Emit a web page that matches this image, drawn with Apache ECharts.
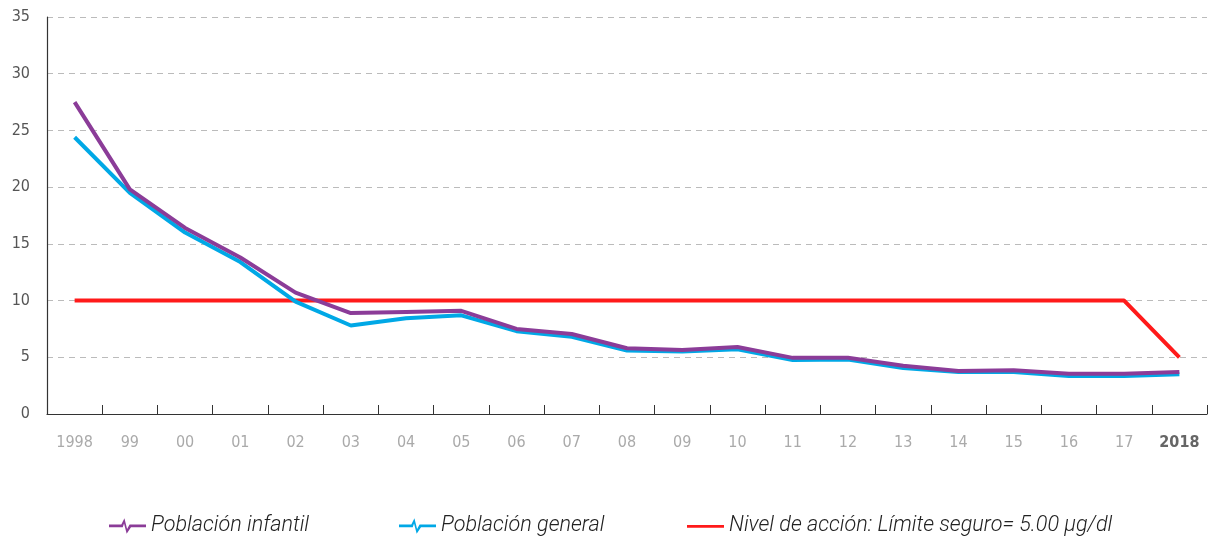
<!DOCTYPE html>
<html>
<head>
<meta charset="utf-8">
<script src="https://cdn.jsdelivr.net/npm/echarts@6/dist/echarts.min.js"></script>
<style>
  html, body { margin: 0; padding: 0; background: #fff; }
  #chart { width: 1209px; height: 539px; }
</style>
</head>
<body>
<div id="chart"></div>
<script>
// Blood lead levels (µg/dl), 1998–2018
const years = ['1998', '99', '00', '01', '02', '03', '04', '05', '06', '07', '08', '09', '10', '11', '12', '13', '14', '15', '16', '17', '2018'];
const infantil = [27.5, 19.8, 16.4, 13.8, 10.7, 8.9, 9.0, 9.1, 7.5, 7.05, 5.8, 5.65, 5.9, 4.95, 4.95, 4.25, 3.8, 3.85, 3.55, 3.55, 3.7];
const general = [24.4, 19.5, 16.0, 13.4, 9.9, 7.8, 8.45, 8.7, 7.3, 6.8, 5.6, 5.5, 5.7, 4.75, 4.8, 4.05, 3.7, 3.7, 3.35, 3.35, 3.5];
const nivelAccion = [10, 10, 10, 10, 10, 10, 10, 10, 10, 10, 10, 10, 10, 10, 10, 10, 10, 10, 10, 10, 5];
const yTicks = [0, 5, 10, 15, 20, 25, 30, 35];

const names = ['Población infantil', 'Población general', 'Nivel de acción: Límite seguro= 5.00 µg/dl'];
const colors = ['#8b3c98', '#00a8e6', '#ff1a1a'];

// heartbeat-style legend glyph, drawn as a filled outline
const pulseIcon = 'path://M0,6.8 L12,6.8 L15,0.5 L17.6,11 L20,6.8 L36,6.8 L36,9.4 L21.4,9.4 L17.2,15.8 L14.6,5.6 L13.4,9.4 L0,9.4 Z';
const barIcon = 'path://M0,0 L0,0 Z M0,7 L36,7 L36,9.6 L0,9.6 Z M36,16 L36,16 Z';

const axisFont = '"Liberation Sans Narrow", "Arial Narrow", "DejaVu Sans Condensed", sans-serif';

const legendText = {
  fontFamily: 'Roboto, sans-serif',
  fontStyle: 'italic',
  fontWeight: 300,
  fontSize: 21.6,
  color: '#222'
};

function makeLegend(i, left, icon) {
  return {
    show: true,
    left: left,
    top: 510,
    itemWidth: 37,
    itemHeight: 17,
    itemGap: 10,
    icon: icon,
    data: [{ name: names[i], icon: icon, itemStyle: { color: colors[i] } }],
    textStyle: legendText,
    selectedMode: false
  };
}

const chart = echarts.init(document.getElementById('chart'), null, { renderer: 'canvas' });

chart.setOption({
  animation: false,
  backgroundColor: '#fff',
  grid: { left: 47, right: 2, top: 17, bottom: 125, containLabel: false },
  legend: [
    makeLegend(0, 104, pulseIcon),
    makeLegend(1, 394, pulseIcon),
    makeLegend(2, 682, barIcon)
  ],
  xAxis: {
    type: 'category',
    data: years,
    boundaryGap: true,
    axisLine: { show: true, lineStyle: { color: '#333', width: 1.2 } },
    axisTick: { show: true, inside: true, length: 9, interval: 0, lineStyle: { color: '#333', width: 1 } },
    axisLabel: {
      interval: 0,
      margin: 21,
      fontFamily: axisFont,
      fontSize: 16,
      color: '#aaa',
      formatter: function (v) { return v === '2018' ? '{b|' + v + '}' : v; },
      rich: { b: { fontFamily: axisFont, fontSize: 16, fontWeight: 'bold', color: '#666' } }
    },
    splitLine: { show: false }
  },
  yAxis: {
    type: 'value',
    min: 0,
    max: 35,
    interval: 5,
    axisLine: { show: true, lineStyle: { color: '#333', width: 1.2 } },
    axisTick: { show: false },
    axisLabel: {
      margin: 17,
      fontFamily: axisFont,
      fontSize: 16,
      color: '#555',
      formatter: function (v) { return yTicks.indexOf(v) >= 0 ? String(v) : ''; }
    },
    splitLine: { show: true, lineStyle: { color: '#bbb', type: [6, 5], width: 1 } }
  },
  series: [
    {
      name: names[2], type: 'line', data: nivelAccion, symbol: 'none', z: 1,
      lineStyle: { color: colors[2], width: 4 }, itemStyle: { color: colors[2] }
    },
    {
      name: names[1], type: 'line', data: general, symbol: 'none', z: 2,
      lineStyle: { color: colors[1], width: 4 }, itemStyle: { color: colors[1] }
    },
    {
      name: names[0], type: 'line', data: infantil, symbol: 'none', z: 3,
      lineStyle: { color: colors[0], width: 4 }, itemStyle: { color: colors[0] }
    }
  ]
});
</script>
</body>
</html>
